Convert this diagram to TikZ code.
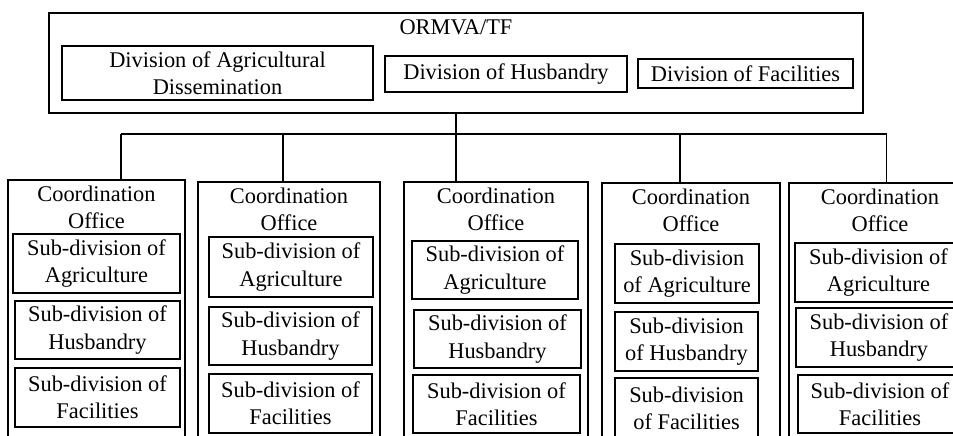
\documentclass[tikz,border=0pt]{standalone}
\usepackage{fontspec}
\setmainfont{Liberation Serif}
\usetikzlibrary{positioning}
\tikzset{
    office/.style={rectangle, draw=black, line width=1.1pt, inner sep=0pt},
    unit/.style={rectangle, draw=black, line width=1.1pt, inner sep=0pt, align=center},
    caption/.style={inner sep=0pt, align=center},
    line/.style={line width=1.1pt, black}
}

\begin{document}
\begin{tikzpicture}[x=1pt, y=-1pt, font=\fontsize{22.4}{27.2}\selectfont]
    \useasboundingbox (0,0) rectangle (953,436);
    \clip (0,0) rectangle (953,436);

    % ORMVA/TF with its three divisions
    \node[office, minimum width=814pt, minimum height=100pt] (ormva) at (456,63) {};
    \node[caption, below=7pt of ormva.north] (ttop) {ORMVA/TF};
    \node[unit, minimum width=311pt, minimum height=54pt] (dagr) at (217.5,73) {Division of Agricultural\\Dissemination};
    \node[unit, minimum width=242pt, minimum height=36pt] (dhus) at (506,74) {Division of Husbandry};
    \node[unit, minimum width=215pt, minimum height=29pt] (dfac) at (745.5,73.5) {Division of Facilities};

    % coordination offices (cut off at the bottom)
    \node[office, minimum width=177pt, minimum height=270pt] (off1) at (96.5,315) {};
    \node[office, minimum width=182pt, minimum height=268pt] (off2) at (289,316) {};
    \node[office, minimum width=184pt, minimum height=268pt] (off3) at (496,316) {};
    \node[office, minimum width=178pt, minimum height=267pt] (off4) at (691,316.5) {};
    \node[office, minimum width=182pt, minimum height=267pt] (off5) at (880,316.5) {};
    \node[caption, below=6pt of off1.north] (t1) {Coordination\\Office};
    \node[caption, below=6.5pt of off2.north] (t2) {Coordination\\Office};
    \node[caption, below=6pt of off3.north] (t3) {Coordination\\Office};
    \node[caption, below=6.5pt of off4.north] (t4) {Coordination\\Office};
    \node[caption, below=6.5pt of off5.north] (t5) {Coordination\\Office};

    \node[unit, minimum width=167pt, minimum height=59pt] (sa1) at (96.5,263.5) {Sub-division of\\Agriculture};
    \node[unit, minimum width=165pt, minimum height=58pt] (sh1) at (97.5,330) {Sub-division of\\Husbandry};
    \node[unit, minimum width=165pt, minimum height=59pt] (sf1) at (97.5,397.5) {Sub-division of\\Facilities};

    \node[unit, minimum width=164pt, minimum height=60pt] (sa2) at (291,267) {Sub-division of\\Agriculture};
    \node[unit, minimum width=163pt, minimum height=58pt] (sh2) at (290.5,336) {Sub-division of\\Husbandry};
    \node[unit, minimum width=163pt, minimum height=59pt] (sf2) at (290.5,403.5) {Sub-division of\\Facilities};

    \node[unit, minimum width=166pt, minimum height=58pt] (sa3) at (495,270) {Sub-division of\\Agriculture};
    \node[unit, minimum width=167pt, minimum height=58pt] (sh3) at (497.5,339) {Sub-division of\\Husbandry};
    \node[unit, minimum width=167pt, minimum height=58pt] (sf3) at (496.5,404) {Sub-division of\\Facilities};

    \node[unit, minimum width=144pt, minimum height=59pt] (sa4) at (687,273.5) {Sub-division\\of Agriculture};
    \node[unit, minimum width=143pt, minimum height=59pt] (sh4) at (686.5,341.5) {Sub-division\\of Husbandry};
    \node[unit, minimum width=143pt, minimum height=60pt] (sf4) at (686.5,408) {Sub-division\\of Facilities};

    \node[unit, minimum width=167pt, minimum height=59pt] (sa5) at (878.5,272.5) {Sub-division of\\Agriculture};
    \node[unit, minimum width=166pt, minimum height=59pt] (sh5) at (879,337.5) {Sub-division of\\Husbandry};
    \node[unit, minimum width=164pt, minimum height=58pt] (sf5) at (880,404) {Sub-division of\\Facilities};

    % connectors
    \coordinate (b1) at (121,134);
    \coordinate (b2) at (283,134);
    \coordinate (b4) at (680,134);
    \coordinate (b5) at (886.5,134);
    \draw[line] (b1) -- (b5);
    \draw[line] (ormva.south) -- (ormva.south |- off3.north);
    \draw[line] (b1) -- (b1 |- off1.north);
    \draw[line] (b2) -- (b2 |- off2.north);
    \draw[line] (b4) -- (b4 |- off4.north);
    \draw[line] (b5) -- (b5 |- off5.north);
\end{tikzpicture}
\end{document}
